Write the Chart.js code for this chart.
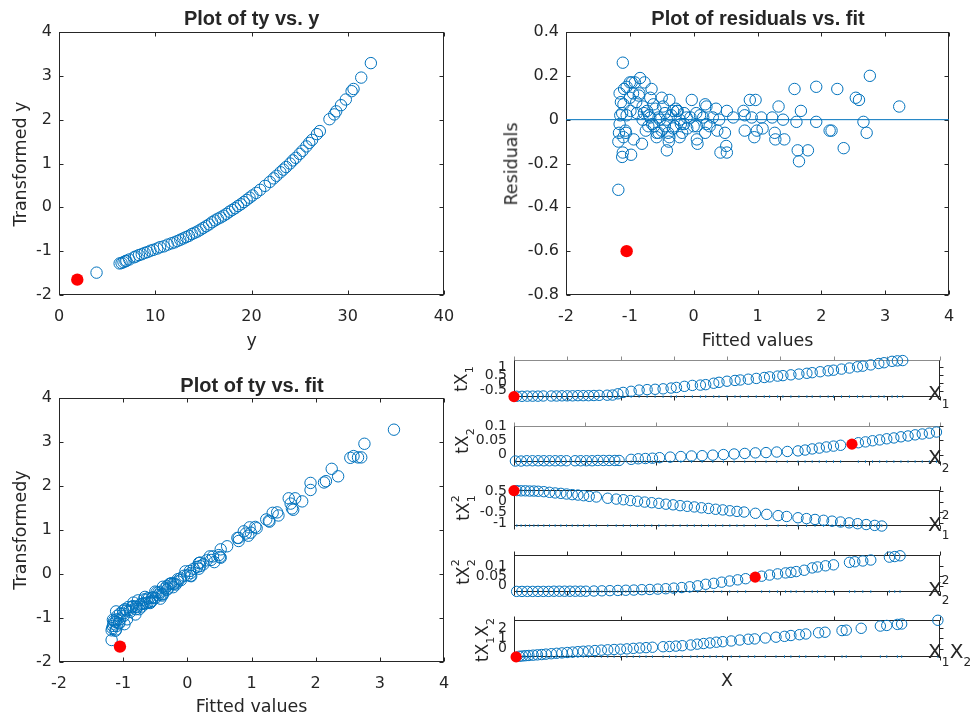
<!DOCTYPE html>
<html>
<head>
<meta charset="utf-8">
<title>Transformation diagnostics</title>
<script src="https://cdn.jsdelivr.net/npm/chart.js@4.4.1/dist/chart.umd.min.js"></script>
<style>
  html, body { margin: 0; padding: 0; background: #fff; }
  body { position: relative; width: 972px; height: 719px; overflow: hidden; font-family: "DejaVu Sans", sans-serif; color: #262626; }
  canvas { position: absolute; }
  .txt { position: absolute; line-height: 1; white-space: nowrap; transform-origin: 0 0; }
  .stk { display: inline-block; position: relative; height: 1px; }
  .stk span { position: absolute; left: 0; line-height: 1; }
</style>
</head>
<body>
<script>
// ty vs. y (top left)
var yRaw = [3.9, 6.3, 6.5, 6.7, 6.9, 7.0, 7.3, 7.8, 8.0, 8.3,
  8.6, 8.9, 9.2, 9.5, 9.8, 10.2, 10.5, 10.9, 11.3, 11.7,
  12.0, 12.3, 12.6, 12.9, 13.2, 13.5, 13.8, 14.1, 14.4, 14.7,
  15.0, 15.3, 15.6, 15.9, 16.2, 16.5, 16.8, 17.1, 17.4, 17.7,
  18.0, 18.3, 18.6, 18.9, 19.2, 19.5, 19.8, 20.1, 20.5, 20.9,
  21.4, 21.9, 22.3, 22.6, 23.0, 23.3, 23.6, 24.0, 24.3, 24.6,
  25.0, 25.3, 25.7, 26.0, 26.3, 26.8, 27.1, 28.1, 28.6, 28.8,
  29.3, 29.8, 30.4, 30.6, 31.4, 32.4];
var tyRaw = [-1.49, -1.28, -1.27, -1.25, -1.23, -1.22, -1.19, -1.14, -1.12, -1.09,
  -1.07, -1.04, -1.02, -0.99, -0.97, -0.94, -0.91, -0.89, -0.85, -0.82,
  -0.80, -0.77, -0.74, -0.71, -0.68, -0.65, -0.61, -0.58, -0.55, -0.51,
  -0.47, -0.43, -0.39, -0.34, -0.30, -0.26, -0.23, -0.19, -0.15, -0.10,
  -0.06, -0.02, 0.03, 0.07, 0.12, 0.17, 0.22, 0.27, 0.33, 0.40,
  0.49, 0.58, 0.66, 0.72, 0.80, 0.86, 0.92, 1.00, 1.07, 1.13,
  1.22, 1.29, 1.39, 1.47, 1.54, 1.67, 1.74, 2.01, 2.12, 2.19,
  2.33, 2.46, 2.65, 2.70, 2.96, 3.29];

// fitted values, residuals and transformed response (top right, bottom left)
var fitVals = [-1.18, -1.18, -1.17, -1.16, -1.16, -1.15, -1.14, -1.12, -1.12, -1.11,
  -1.11, -1.10, -1.10, -1.09, -1.07, -1.06, -1.05, -1.05, -1.00, -1.00,
  -0.99, -0.98, -0.97, -0.95, -0.94, -0.92, -0.90, -0.89, -0.86, -0.85,
  -0.84, -0.81, -0.80, -0.80, -0.78, -0.77, -0.75, -0.73, -0.71, -0.70,
  -0.68, -0.68, -0.66, -0.65, -0.63, -0.62, -0.60, -0.58, -0.58, -0.55,
  -0.55, -0.53, -0.50, -0.50, -0.48, -0.45, -0.45, -0.42, -0.42, -0.40,
  -0.39, -0.38, -0.38, -0.35, -0.32, -0.32, -0.30, -0.28, -0.26, -0.25,
  -0.22, -0.22, -0.20, -0.18, -0.15, -0.15, -0.11, -0.10, -0.05, -0.03,
  0.00, 0.04, 0.05, 0.05, 0.06, 0.10, 0.15, 0.18, 0.18, 0.20,
  0.20, 0.25, 0.30, 0.35, 0.37, 0.40, 0.42, 0.49, 0.51, 0.52,
  0.52, 0.62, 0.78, 0.80, 0.80, 0.88, 0.91, 0.95, 0.97, 0.99,
  1.06, 1.08, 1.23, 1.27, 1.28, 1.33, 1.40, 1.42, 1.58, 1.61,
  1.63, 1.65, 1.68, 1.79, 1.92, 1.92, 2.13, 2.16, 2.25, 2.35,
  2.54, 2.59, 2.66, 2.71, 2.76, 3.22];
var residVals = [-0.10, -0.32, -0.06, -0.02, 0.12, 0.02, 0.08, -0.17, 0.03, 0.26,
  -0.15, 0.07, -0.08, 0.14, -0.05, -0.06, 0.15, 0.02, 0.17, 0.10,
  0.04, -0.16, 0.17, 0.12, -0.09, 0.17, 0.08, 0.03, 0.11, 0.12,
  0.19, -0.11, 0.06, 0.00, 0.03, 0.17, -0.05, 0.04, -0.03, 0.02,
  0.10, 0.01, 0.14, -0.02, 0.07, -0.03, 0.05, -0.08, -0.06, 0.01,
  -0.06, 0.00, 0.10, -0.05, 0.06, -0.03, 0.03, -0.14, 0.00, -0.06,
  -0.10, 0.09, -0.08, 0.02, 0.04, -0.04, -0.03, 0.05, 0.04, 0.04,
  -0.08, 0.00, -0.02, -0.06, 0.03, -0.02, 0.01, -0.04, 0.01, 0.09,
  -0.03, 0.03, -0.03, -0.09, -0.11, 0.02, 0.01, 0.07, -0.06, 0.06,
  -0.02, -0.03, 0.01, 0.05, -0.05, 0.00, -0.15, -0.06, -0.12, -0.15,
  0.04, 0.01, 0.04, -0.05, 0.02, 0.09, 0.01, -0.08, 0.09, -0.05,
  0.01, -0.04, 0.01, -0.06, -0.09, 0.06, 0.00, -0.09, 0.14, -0.01,
  -0.14, -0.19, 0.04, -0.14, 0.15, -0.01, -0.05, -0.05, 0.14, -0.13,
  0.10, 0.09, -0.01, -0.06, 0.20, 0.06];
var tyVals = [-1.28, -1.50, -1.23, -1.18, -1.04, -1.13, -1.06, -1.29, -1.09, -0.85,
  -1.26, -1.03, -1.18, -0.95, -1.12, -1.12, -0.90, -1.03, -0.83, -0.90,
  -0.95, -1.14, -0.80, -0.83, -1.03, -0.75, -0.82, -0.86, -0.75, -0.73,
  -0.65, -0.92, -0.74, -0.80, -0.75, -0.60, -0.80, -0.69, -0.74, -0.68,
  -0.58, -0.67, -0.52, -0.67, -0.56, -0.65, -0.55, -0.66, -0.64, -0.54,
  -0.61, -0.53, -0.40, -0.55, -0.42, -0.48, -0.42, -0.56, -0.42, -0.46,
  -0.49, -0.29, -0.46, -0.33, -0.28, -0.36, -0.33, -0.23, -0.22, -0.21,
  -0.30, -0.22, -0.22, -0.24, -0.12, -0.17, -0.10, -0.14, -0.04, 0.06,
  -0.03, 0.07, 0.02, -0.04, -0.05, 0.12, 0.16, 0.25, 0.12, 0.26,
  0.18, 0.22, 0.31, 0.40, 0.32, 0.40, 0.27, 0.43, 0.39, 0.37,
  0.56, 0.63, 0.82, 0.75, 0.82, 0.97, 0.92, 0.87, 1.06, 0.94,
  1.07, 1.04, 1.24, 1.21, 1.19, 1.39, 1.40, 1.33, 1.72, 1.60,
  1.49, 1.46, 1.72, 1.65, 2.07, 1.91, 2.08, 2.11, 2.39, 2.22,
  2.64, 2.68, 2.65, 2.65, 2.96, 3.28];

// the flagged observation (red)
var flagY = [1.9], flagTy = [-1.65], flagFit = [-1.05], flagResid = [-0.60];

var yTicks = [0, 10, 20, 30, 40];
var tyTicks = [-2, -1, 0, 1, 2, 3, 4];
var fitTicks = [-2, -1, 0, 1, 2, 3, 4];
var residTicks = [-0.8, -0.6, -0.4, -0.2, 0, 0.2, 0.4];

// constructed variables (bottom right strips)
var x1 = [0.05, 0.15, 0.25, 0.35, 0.45, 0.55, 0.7, 0.8, 0.9, 1.0, 1.1, 1.2, 1.3, 1.4, 1.5, 1.6,
  1.75, 1.85, 1.95, 2.05, 2.2, 2.35, 2.5, 2.65, 2.8, 2.95, 3.05, 3.2, 3.35,
  3.5, 3.6, 3.75, 3.85, 4.0, 4.15, 4.25, 4.4, 4.55, 4.7, 4.8, 4.95, 5.05, 5.2, 5.35,
  5.5, 5.6, 5.75, 5.9, 6.0, 6.15, 6.3, 6.45, 6.55, 6.7, 6.85, 6.95, 7.1, 7.2, 7.3];
var tX1 = [-0.86, -0.86, -0.85, -0.85, -0.85, -0.84, -0.84, -0.84, -0.83, -0.83, -0.83, -0.82, -0.82, -0.82, -0.81, -0.80,
  -0.79, -0.78, -0.70, -0.61, -0.54, -0.46, -0.43, -0.41, -0.38, -0.33, -0.29, -0.22, -0.16,
  -0.14, -0.11, -0.02, 0.04, 0.11, 0.16, 0.19, 0.24, 0.29, 0.35, 0.39, 0.44, 0.47, 0.52, 0.57,
  0.62, 0.66, 0.72, 0.78, 0.82, 0.89, 0.96, 1.04, 1.08, 1.16, 1.25, 1.30, 1.39, 1.42, 1.44];
var x2 = [0.02, 0.1, 0.18, 0.26, 0.34, 0.42, 0.5, 0.58, 0.66, 0.74, 0.86, 0.94, 1.02, 1.1, 1.18, 1.26, 1.34, 1.42, 1.48,
  1.65, 1.75, 1.85, 1.95, 2.05, 2.2, 2.35, 2.5, 2.65, 2.8, 2.95, 3.1, 3.25, 3.4, 3.55, 3.7, 3.85, 4.0,
  4.1, 4.2, 4.3, 4.4, 4.5, 4.6, 4.85, 4.95, 5.05, 5.15, 5.25, 5.35, 5.45, 5.55, 5.65, 5.75, 5.85, 5.95];
var tX2 = [-0.023, -0.023, -0.022, -0.022, -0.022, -0.022, -0.022, -0.022, -0.022, -0.022, -0.022, -0.022, -0.022, -0.022, -0.021, -0.021, -0.021, -0.021, -0.021,
  -0.017, -0.015, -0.014, -0.013, -0.011, -0.009, -0.007, -0.005, -0.004, -0.002, 0.000, 0.002, 0.004, 0.006, 0.007, 0.009, 0.011, 0.013,
  0.016, 0.020, 0.023, 0.027, 0.030, 0.033, 0.042, 0.045, 0.049, 0.052, 0.056, 0.059, 0.063, 0.066, 0.070, 0.073, 0.076, 0.080];
var x1sq = [0.02, 0.05, 0.08, 0.11, 0.14, 0.17, 0.21, 0.25, 0.29, 0.33,
  0.37, 0.41, 0.45, 0.49, 0.53, 0.58, 0.66, 0.72, 0.77, 0.82,
  0.87, 0.92, 0.97, 1.02, 1.07, 1.12, 1.17, 1.22, 1.27, 1.32,
  1.37, 1.42, 1.47, 1.52, 1.57, 1.62, 1.7, 1.78, 1.86, 1.92,
  2.0, 2.06, 2.12, 2.18, 2.24, 2.3, 2.36, 2.42, 2.48, 2.54, 2.59];
var tX1sq = [0.53, 0.52, 0.52, 0.51, 0.51, 0.50, 0.48, 0.45, 0.42, 0.40,
  0.37, 0.34, 0.32, 0.29, 0.26, 0.23, 0.17, 0.13, 0.10, 0.06,
  0.03, -0.01, -0.04, -0.07, -0.11, -0.14, -0.18, -0.21, -0.24, -0.28,
  -0.31, -0.35, -0.38, -0.42, -0.45, -0.48, -0.54, -0.59, -0.65, -0.69,
  -0.75, -0.79, -0.83, -0.87, -0.91, -0.95, -0.99, -1.03, -1.07, -1.11, -1.14];
var x2sq = [0.05, 0.15, 0.25, 0.35, 0.45, 0.55, 0.65, 0.75, 0.85, 0.95,
  1.05, 1.15, 1.25, 1.35, 1.5, 1.65, 1.8, 1.95, 2.1, 2.25,
  2.4, 2.55, 2.7, 2.85, 3.0, 3.15, 3.3, 3.45, 3.6, 3.75,
  3.9, 4.05, 4.2, 4.35, 4.65, 4.8, 4.95, 5.1, 5.2, 5.3,
  5.45, 5.6, 5.7, 5.85, 6.0, 6.3, 6.4, 6.55, 6.7, 7.05, 7.15, 7.25];
var tX2sq = [-0.030, -0.030, -0.030, -0.030, -0.030, -0.030, -0.030, -0.029, -0.029, -0.029,
  -0.029, -0.029, -0.029, -0.029, -0.028, -0.027, -0.026, -0.025, -0.024, -0.023,
  -0.021, -0.020, -0.018, -0.016, -0.013, -0.010, -0.006, -0.001, 0.007, 0.012,
  0.018, 0.024, 0.030, 0.036, 0.049, 0.055, 0.061, 0.066, 0.069, 0.073,
  0.080, 0.092, 0.097, 0.103, 0.108, 0.121, 0.124, 0.128, 0.133, 0.148, 0.151, 0.155];
var x1x2 = [0.05, 0.08, 0.11, 0.14, 0.18, 0.22, 0.26, 0.30, 0.35, 0.40,
  0.45, 0.50, 0.55, 0.60, 0.65, 0.70, 0.76, 0.82, 0.88, 0.94,
  1.0, 1.06, 1.12, 1.18, 1.24, 1.30, 1.40, 1.46, 1.52, 1.58,
  1.66, 1.72, 1.78, 1.84, 1.90, 1.96, 2.04, 2.12, 2.2, 2.26,
  2.36, 2.46, 2.54, 2.6, 2.68, 2.74, 2.86, 2.92, 3.08, 3.12,
  3.26, 3.44, 3.5, 3.6, 3.64, 3.98];
var tX1X2 = [-0.74, -0.71, -0.68, -0.66, -0.63, -0.60, -0.57, -0.53, -0.49, -0.45,
  -0.41, -0.37, -0.33, -0.29, -0.25, -0.22, -0.18, -0.14, -0.11, -0.08,
  -0.05, -0.02, 0.03, 0.07, 0.10, 0.14, 0.19, 0.21, 0.25, 0.29,
  0.36, 0.44, 0.50, 0.56, 0.63, 0.68, 0.75, 0.84, 0.92, 0.95,
  1.04, 1.12, 1.20, 1.28, 1.36, 1.43, 1.55, 1.60, 1.76, 1.80,
  1.98, 2.20, 2.26, 2.36, 2.40, 2.76];

var stripFlagX = [0, 4.76, 0, 4.53, 0.02];
var stripFlagY = [-0.88, 0.037, 0.53, 0.044, -0.80];
var stripXTicks = [[0, 1, 2, 3, 4, 5, 6, 7, 8], [0, 1, 2, 3, 4, 5, 6], [0, 1, 2, 3], [0, 1, 2, 3, 4, 5, 6, 7, 8], [0, 1, 2, 3, 4]];
var stripYMin = [-0.88, -0.025, -1.12, -0.031, -0.77];
var stripYMax = [1.45, 0.1, 0.54, 0.157, 2.75];
var stripYTicks = [[-0.5, 0, 0.5, 1], [0, 0.05, 0.1], [-1, -0.5, 0, 0.5], [0, 0.05, 0.1], [0, 1, 2]];

var BLUE = '#0072BD', RED = '#FF0000', AX = '#262626';

function pts(xs, ys) {
  return xs.map(function (v, i) { return { x: v, y: ys[i] }; });
}

// box and tick marks drawn the MATLAB way
var axesBox = {
  id: 'mbox',
  beforeDatasetsDraw: function (chart, args, o) {
    var ctx = chart.ctx, a = chart.chartArea, sx = chart.scales.x, sy = chart.scales.y;
    var L = Math.round(a.left) + 0.5, R = Math.round(a.right) - 0.5;
    var T = Math.round(a.top) + 0.5, B = Math.round(a.bottom) - 0.5;
    var d = o.dir * o.len;
    var top = o.topColor || o.color;
    ctx.save();
    ctx.lineWidth = 1;
    function line(xa, ya, xb, yb, c) {
      ctx.strokeStyle = c;
      ctx.beginPath(); ctx.moveTo(xa, ya); ctx.lineTo(xb, yb); ctx.stroke();
    }
    sx.ticks.forEach(function (t) {
      var p = Math.round(sx.getPixelForValue(t.value)) + 0.5;
      if (o.sides.indexOf('t') >= 0) line(p, T, p, T + d, top);
      if (o.sides.indexOf('b') >= 0) line(p, B, p, B - d, o.color);
    });
    sy.ticks.forEach(function (t) {
      var p = Math.round(sy.getPixelForValue(t.value)) + 0.5;
      if (o.sides.indexOf('l') >= 0) line(L, p, L + d, p, o.color);
      if (o.sides.indexOf('r') >= 0) line(R, p, R - d, p, o.color);
    });
    line(L - 0.5, T, R + 0.5, T, top);
    line(L - 0.5, B, R + 0.5, B, o.color);
    line(L, T, L, B, o.color);
    line(R, T, R, B, o.color);
    ctx.restore();
  }
};

// pad = [top, right, bottom, left] around the plot area
function makeAxes(o) {
  var c = document.createElement('canvas');
  var w = o.right - o.left + o.pad[1] + o.pad[3];
  var h = o.bottom - o.top + o.pad[0] + o.pad[2];
  c.width = w; c.height = h;
  c.style.left = (o.left - o.pad[3]) + 'px';
  c.style.top = (o.top - o.pad[0]) + 'px';
  c.style.width = w + 'px'; c.style.height = h + 'px';
  document.body.appendChild(c);
  var font = { family: 'DejaVu Sans', size: o.fontSize };
  return new Chart(c, {
    type: 'scatter',
    data: { datasets: o.datasets },
    options: {
      responsive: false, animation: false, devicePixelRatio: 1, events: [],
      layout: { autoPadding: false, padding: { top: o.pad[0], right: o.pad[1], bottom: 0, left: 0 } },
      plugins: { legend: { display: false }, tooltip: { enabled: false }, mbox: o.box },
      scales: {
        x: {
          type: 'linear', min: o.xTicks[0], max: o.xTicks[o.xTicks.length - 1],
          grid: { display: false, drawTicks: false }, border: { display: false },
          afterBuildTicks: function (s) { s.ticks = o.xTicks.map(function (v) { return { value: v }; }); },
          afterFit: function (s) { s.height = o.pad[2]; },
          ticks: { display: o.xLabels, autoSkip: false, maxRotation: 0, padding: 12, color: AX, font: font,
            callback: function (v) { return String(v); } }
        },
        y: {
          type: 'linear', min: o.yMin, max: o.yMax,
          grid: { display: false, drawTicks: false }, border: { display: false },
          afterBuildTicks: function (s) { s.ticks = o.yTicks.map(function (v) { return { value: v }; }); },
          afterFit: function (s) { s.width = o.pad[3]; },
          ticks: { autoSkip: false, padding: 7, color: AX, font: font,
            callback: function (v) { return String(v); } }
        }
      }
    },
    plugins: [axesBox]
  });
}

function flagSet(xs, ys, r) {
  return { data: pts(xs, ys), pointRadius: r, pointBorderWidth: 0, backgroundColor: RED, borderColor: RED, clip: false };
}
function circleSet(xs, ys, r) {
  return { data: pts(xs, ys), pointRadius: r, pointBorderWidth: 1, borderColor: BLUE, backgroundColor: 'rgba(0,0,0,0)', clip: false };
}
var mainBox = { dir: 1, len: 4, sides: 'tblr', color: AX };

makeAxes({
  left: 59, right: 444, top: 32, bottom: 295, pad: [20, 24, 40, 59], fontSize: 16,
  xTicks: yTicks, yTicks: tyTicks, yMin: tyTicks[0], yMax: tyTicks[tyTicks.length - 1], xLabels: true, box: mainBox,
  datasets: [flagSet(flagY, flagTy, 6.2), circleSet(yRaw, tyRaw, 5.7)]
});

makeAxes({
  left: 566, right: 949, top: 32, bottom: 295, pad: [20, 20, 40, 60], fontSize: 16,
  xTicks: fitTicks, yTicks: residTicks, yMin: residTicks[0], yMax: residTicks[residTicks.length - 1], xLabels: true, box: mainBox,
  datasets: [
    flagSet(flagFit, flagResid, 6.2),
    circleSet(fitVals, residVals, 5.7),
    { data: [{ x: fitTicks[0], y: 0 }, { x: fitTicks[fitTicks.length - 1], y: 0 }], showLine: true,
      borderColor: BLUE, borderWidth: 1, pointRadius: 0 }
  ]
});

makeAxes({
  left: 59, right: 444, top: 398, bottom: 662, pad: [20, 24, 40, 59], fontSize: 16,
  xTicks: fitTicks, yTicks: tyTicks, yMin: tyTicks[0], yMax: tyTicks[tyTicks.length - 1], xLabels: true, box: mainBox,
  datasets: [flagSet(flagFit, flagTy, 6.2), circleSet(fitVals, tyVals, 5.7)]
});

var stripX = [x1, x2, x1sq, x2sq, x1x2];
var stripT = [tX1, tX2, tX1sq, tX2sq, tX1X2];
var stripTop = [355, 421, 485, 550, 615];
var stripBot = [402, 467, 531, 597, 662];
var stripEdge = ['#8c8c8c', '#8c8c8c', AX, AX, AX];

for (var i = 0; i < 5; i++) {
  var ymin = stripYMin[i];
  makeAxes({
    left: 514, right: 940, top: stripTop[i], bottom: stripBot[i], pad: [10, 12, 10, 56], fontSize: 14,
    xTicks: stripXTicks[i], yTicks: stripYTicks[i], yMin: ymin, yMax: stripYMax[i], xLabels: false,
    box: { dir: -1, len: 4, sides: 'tbr', color: AX, topColor: stripEdge[i] },
    datasets: [
      flagSet([stripFlagX[i]], [stripFlagY[i]], 5.6),
      circleSet(stripX[i], stripT[i], 5.2),
      { data: stripX[i].map(function (v) { return { x: v, y: ymin }; }), pointStyle: 'line', rotation: 90,
        pointRadius: 1.2, pointBorderWidth: 1, borderColor: BLUE, clip: false }
    ]
  });
}

// text, positioned by baseline
function addText(html, x, y, o) {
  var d = document.createElement('div');
  d.className = 'txt';
  d.innerHTML = html;
  d.style.left = x + 'px';
  d.style.top = y + 'px';
  d.style.fontSize = o.size + 'px';
  if (o.bold) d.style.fontWeight = 'bold';
  if (o.family) d.style.fontFamily = o.family;
  var tx = o.align === 'left' ? '0' : '-50%';
  d.style.transform = (o.rot ? 'rotate(-90deg) ' : '') + 'translate(' + tx + ', -0.846em)';
  document.body.appendChild(d);
}
function scr(up, down, size, upBottom, downTop, width) {
  var h = '<span class="stk" style="width:' + width + 'px;font-size:' + size + 'px">';
  if (up) h += '<span style="bottom:' + upBottom + 'px">' + up + '</span>';
  if (down) h += '<span style="top:' + downTop + 'px">' + down + '</span>';
  return h + '</span>';
}

var titleFont = { size: 20, bold: true, family: '"Liberation Sans", Arial, sans-serif' };
addText('Plot of ty vs. y', 251.7, 25, titleFont);
addText('Plot of residuals vs. fit', 758, 25, titleFont);
addText('Plot of ty vs. fit', 252, 391.7, titleFont);

addText('y', 251.7, 346.7, { size: 17.5 });
addText('Fitted values', 757.5, 346.7, { size: 17.5 });
addText('Fitted values', 251.5, 712.7, { size: 17.5 });
addText('Transformed y', 26.7, 163.5, { size: 17.5, rot: true });
addText('Residuals', 518.3, 163.5, { size: 17.5, rot: true });
addText('Transformedy', 26.7, 530, { size: 17.5, rot: true });
addText('X', 727, 687, { size: 17.5 });

function leftSub(u, d) { return scr(u, d, 11, 8.3, -2.3, 7); }
function rightSub(u, d) { return scr(u, d, 12, 10.2, -0.7, 8); }
var leftLabels = ['tX' + leftSub(null, '1'), 'tX' + leftSub(null, '2'), 'tX' + leftSub('2', '1'),
  'tX' + leftSub('2', '2'), 'tX' + leftSub(null, '1') + 'X' + leftSub(null, '2')];
var rightLabels = ['X' + rightSub(null, '1'), 'X' + rightSub(null, '2'), 'X' + rightSub('2', '1'),
  'X' + rightSub('2', '2'), 'X' + rightSub(null, '1') + 'X' + rightSub(null, '2')];
var leftBase = [467, 468, 469, 469, 488];
var leftMid = [379, 441, 508, 572, 640];
var rightBase = [400, 464, 531, 596, 658];
for (var k = 0; k < 5; k++) {
  addText(leftLabels[k], leftBase[k], leftMid[k], { size: 17, rot: true });
  addText(rightLabels[k], 928, rightBase[k], { size: 20, align: 'left' });
}
</script>
</body>
</html>
